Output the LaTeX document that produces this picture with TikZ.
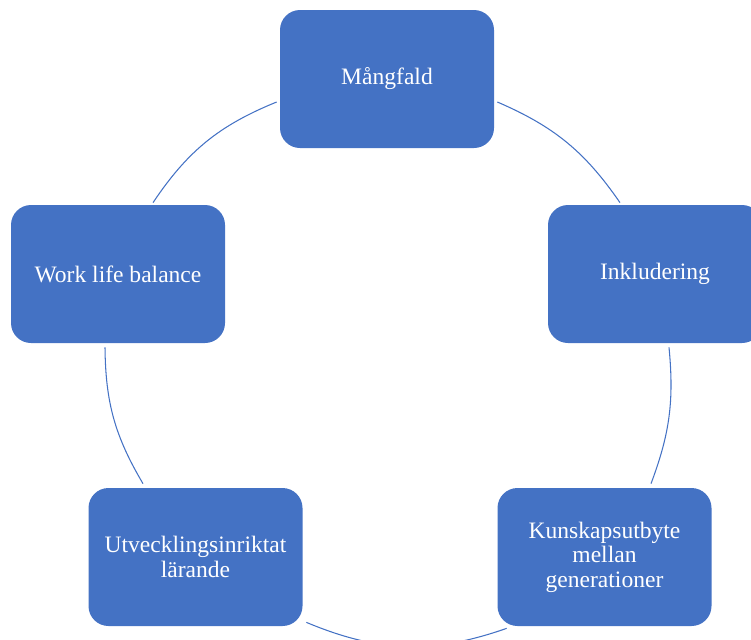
\documentclass[tikz,border=0pt]{standalone}
\usepackage{fontspec}
\setmainfont{Liberation Serif}

\definecolor{smartblau}{RGB}{68,114,196}

\tikzset{
  kasten/.style={fill=smartblau, rounded corners=0.4cm, minimum width=4.28cm, minimum height=2.76cm, inner sep=0pt, text=white, align=center, font=\fontsize{13.4}{14}\selectfont},
  bogen/.style={draw=smartblau, line width=0.6pt}
}

\begin{document}
\begin{tikzpicture}

%Rahmen der Grafik
\useasboundingbox (0,0) rectangle (15.02,-12.78);

%Kaesten
\node[kasten] (mangfald) at (7.74,-1.58) {Mångfald};
\node[kasten] (inkludering) at (13.10,-5.48) {Inkludering};
\node[kasten] (kunskap) at (12.09,-11.14) {Kunskapsutbyte\\mellan\\generationer};
\node[kasten] (utveckling) at (3.91,-11.14) {Utvecklingsinriktat\\lärande};
\node[kasten] (balans) at (2.36,-5.48) {Work life balance};

%Anschlusspunkte der Boegen
\coordinate (m1) at ([shift={(0.06,-0.46)}]mangfald.east);
\coordinate (i1) at ([shift={(-0.70,0.04)}]inkludering.north);
\coordinate (i2) at ([shift={(0.28,-0.08)}]inkludering.south);
\coordinate (k1) at ([shift={(0.93,0.08)}]kunskap.north);
\coordinate (k2) at ([shift={(0.19,-0.04)}]kunskap.south west);
\coordinate (u1) at ([shift={(0.07,0.08)}]utveckling.south east);
\coordinate (u2) at ([shift={(-1.05,0.08)}]utveckling.north);
\coordinate (b1) at ([shift={(-0.26,-0.08)}]balans.south);
\coordinate (b2) at ([shift={(0.70,0.04)}]balans.north);
\coordinate (m2) at ([shift={(-0.06,-0.46)}]mangfald.west);

%Kreisboegen
\draw[bogen] (m1) to[bend left=16] (i1);
\draw[bogen] (i2) to[bend left=13] (k1);
\draw[bogen] (k2) to[bend left=21] (u1);
\draw[bogen] (u2) to[bend left=15] (b1);
\draw[bogen] (b2) to[bend left=17] (m2);

\end{tikzpicture}
\end{document}
